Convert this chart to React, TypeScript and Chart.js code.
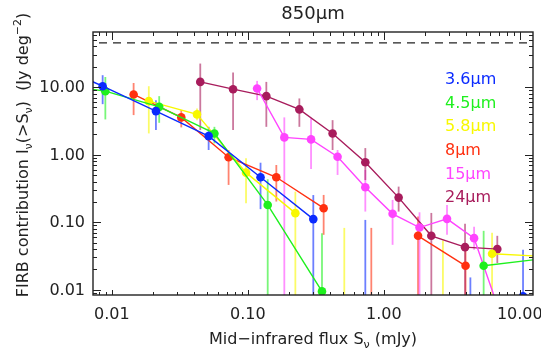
import { useEffect, useRef } from 'react';
import { Chart, registerables } from 'chart.js';
Chart.register(...registerables);

// ---- axes ----
const xTickValues = [0.01, 0.1, 1, 10];
const xTickLabels = ['0.01', '0.10', '1.00', '10.00'];
const yTickValues = [0.01, 0.1, 1, 10];
const yTickLabels = ['0.01', '0.10', '1.00', '10.00'];
const xRange = [0.00727, 12.5];
const yRange = [0.00835, 65.4];
const totalBackground = 45; // dashed line (total 850um background)
const chartTitle = '850μm';

// ---- 3.6um ----
const flux36 = [0.00349, 0.00856, 0.0211, 0.0515, 0.124, 0.303, 0.731, 4.33, 10.56];
const val36 = [23.2, 10.3, 4.41, 1.88, 0.462, 0.111, null, null, 0.008];
const lo36 = [null, 5.59, 2.31, 1.17, 0.156, 0, 0, 0, 0];
const hi36 = [null, 15.0, 6.4, 2.58, 0.759, 0.252, 0.108, 0.0152, 0.039];

// ---- 4.5um ----
const flux45 = [0.00359, 0.00896, 0.0223, 0.0568, 0.14, 0.351, 0.88, 5.42, 13.5];
const val45 = [11.2, 8.7, 5.1, 2.06, 0.18, 0.00944, null, 0.0226, 0.0282];
const lo45 = [null, 3.32, 2.96, 1.47, 0, 0, null, 0, null];
const hi45 = [null, 14.1, 7.34, 2.58, 0.432, 0.0688, null, 0.0744, null];

// ---- 5.8um ----
const flux58 = [0.0187, 0.0423, 0.097, 0.2236, 0.512, 2.72, 6.25, 14.3];
const val58 = [6.19, 3.94, 0.541, 0.136, null, null, 0.034, 0.0313];
const lo58 = [2.06, 3.24, 0.191, 0, 0, 0, 0, null];
const hi58 = [10.3, 4.83, 0.882, 0.283, 0.0823, 0.0535, 0.0695, null];

// ---- 8um ----
const flux8 = [0.01446, 0.0324, 0.0722, 0.162, 0.361, 0.809, 1.785, 3.99];
const val8 = [7.78, 3.56, 0.915, 0.462, 0.161, null, 0.0628, 0.0226];
const lo8 = [3.85, 2.53, 0.356, 0.202, 0.065, 0, 0, 0];
const hi8 = [11.5, 4.56, 1.17, 0.702, 0.253, 0.0823, 0.121, 0.045];

// ---- 15um ----
const flux15 = [0.117, 0.1855, 0.2917, 0.457, 0.731, 1.16, 1.83, 2.915, 4.61, 7.27];
const val15 = [9.54, 1.8, 1.68, 0.931, 0.329, 0.133, 0.0832, 0.112, 0.058, 0.0041];
const lo15 = [6.41, 0, 0.613, 0.5, 0.1435, 0.0462, 0, 0.0649, 0.039, null];
const hi15 = [12.35, 3.56, 3.47, 1.17, 0.593, 0.2135, 0.14, 0.18, 0.0852, null];

// ---- 24um ----
const flux24 = [0.0447, 0.0779, 0.1368, 0.2393, 0.42, 0.731, 1.285, 2.235, 3.955, 6.83];
const val24 = [11.94, 9.31, 7.34, 4.67, 2.06, 0.77, 0.231, 0.0628, 0.0427, 0.0399];
const lo24 = [2.31, 2.31, 2.58, 2.58, 1.17, 0.42, 0.1435, 0, 0, 0.0248];
const hi24 = [22.3, 16.4, 11.94, 6.79, 3.24, 1.25, 0.336, 0.137, 0.0944, 0.0628];

const bandLabels = ['3.6μm', '4.5μm', '5.8μm', '8μm', '15μm', '24μm'];
const bandColors = ['#0a2aff', '#1ef01e', '#f8f800', '#ff3010', '#ff44ff', '#a81c5c'];

const bands = [
  { flux: flux36, val: val36, lo: lo36, hi: hi36 },
  { flux: flux45, val: val45, lo: lo45, hi: hi45 },
  { flux: flux58, val: val58, lo: lo58, hi: hi58 },
  { flux: flux8, val: val8, lo: lo8, hi: hi8 },
  { flux: flux15, val: val15, lo: lo15, hi: hi15 },
  { flux: flux24, val: val24, lo: lo24, hi: hi24 },
].map((b, i) => ({ ...b, label: bandLabels[i], color: bandColors[i] }));

const FONT = '"DejaVu Sans", sans-serif';
const INK = '#222222';

function hexA(hex: string, a: number) {
  const n = parseInt(hex.slice(1), 16);
  return `rgba(${(n >> 16) & 255},${(n >> 8) & 255},${n & 255},${a})`;
}

type Seg = { t: string; sub?: boolean; sup?: boolean };

function richWidth(ctx: CanvasRenderingContext2D, segs: Seg[], size: number) {
  let w = 0;
  for (const s of segs) {
    ctx.font = `${s.sub || s.sup ? Math.round(size * 0.7) : size}px ${FONT}`;
    w += ctx.measureText(s.t).width;
  }
  return w;
}

function drawRich(ctx: CanvasRenderingContext2D, segs: Seg[], size: number, x: number, y: number) {
  let cx = x;
  for (const s of segs) {
    const small = s.sub || s.sup;
    ctx.font = `${small ? Math.round(size * 0.7) : size}px ${FONT}`;
    const dy = s.sub ? size * 0.22 : s.sup ? -size * 0.42 : 0;
    ctx.fillText(s.t, cx, y + dy);
    cx += ctx.measureText(s.t).width;
  }
}

const errorBarPlugin = {
  id: 'errorBars',
  beforeDatasetsDraw(chart: any) {
    const { ctx, chartArea: a, scales } = chart;
    const xs = scales.x, ys = scales.y;
    ctx.save();
    ctx.beginPath();
    ctx.rect(a.left, a.top, a.right - a.left, a.bottom - a.top);
    ctx.clip();
    bands.forEach((b) => {
      ctx.strokeStyle = hexA(b.color, 0.6);
      ctx.lineWidth = 1.8;
      b.flux.forEach((f, i) => {
        const hi = b.hi[i];
        if (hi == null) return;
        const lo = b.lo[i];
        const px = xs.getPixelForValue(f);
        const pyHi = ys.getPixelForValue(hi);
        const pyLo = lo != null && lo > 0 ? ys.getPixelForValue(lo) : a.bottom + 2;
        ctx.beginPath();
        ctx.moveTo(px, pyLo);
        ctx.lineTo(px, pyHi);
        ctx.stroke();
      });
    });
    // dashed total background
    const yd = ys.getPixelForValue(totalBackground);
    ctx.strokeStyle = INK;
    ctx.lineWidth = 1.3;
    ctx.setLineDash([8, 6]);
    ctx.beginPath();
    ctx.moveTo(a.left + 6, yd);
    ctx.lineTo(a.right, yd);
    ctx.stroke();
    ctx.setLineDash([]);
    ctx.restore();
  },
  afterDraw(chart: any) {
    const { ctx, chartArea: a, scales } = chart;
    const xs = scales.x, ys = scales.y;
    ctx.save();
    ctx.strokeStyle = INK;
    ctx.fillStyle = INK;
    ctx.lineWidth = 1.4;
    ctx.strokeRect(a.left, a.top, a.right - a.left, a.bottom - a.top);

    // ticks
    ctx.lineWidth = 1;
    const minor = (lo: number, hi: number) => {
      const out: { v: number; major: boolean }[] = [];
      for (let e = -4; e <= 3; e++) {
        for (let m = 1; m <= 9; m++) {
          const v = m * Math.pow(10, e);
          if (v >= lo && v <= hi) out.push({ v, major: m === 1 });
        }
      }
      return out;
    };
    ctx.beginPath();
    for (const t of minor(xRange[0], xRange[1])) {
      const px = Math.round(xs.getPixelForValue(t.v)) + 0.5;
      const lb = t.major ? 5 : 3;
      const lt = t.major ? 8 : 4;
      ctx.moveTo(px, a.bottom);
      ctx.lineTo(px, a.bottom - lb);
      ctx.moveTo(px, a.top);
      ctx.lineTo(px, a.top + lt);
    }
    for (const t of minor(yRange[0], yRange[1])) {
      const py = Math.round(ys.getPixelForValue(t.v)) + 0.5;
      const l = t.major ? 8 : 4;
      ctx.moveTo(a.left, py);
      ctx.lineTo(a.left + l, py);
      ctx.moveTo(a.right, py);
      ctx.lineTo(a.right - l, py);
    }
    ctx.stroke();

    // tick labels
    ctx.font = `16px ${FONT}`;
    ctx.textAlign = 'center';
    ctx.textBaseline = 'alphabetic';
    xTickValues.forEach((v, i) => {
      ctx.fillText(xTickLabels[i], xs.getPixelForValue(v), a.bottom + 24);
    });
    ctx.textAlign = 'right';
    ctx.textBaseline = 'middle';
    yTickValues.forEach((v, i) => {
      ctx.fillText(yTickLabels[i], a.left - 8, ys.getPixelForValue(v) + 1);
    });

    // title
    ctx.textAlign = 'center';
    ctx.textBaseline = 'alphabetic';
    ctx.font = `18px ${FONT}`;
    ctx.fillText(chartTitle, (a.left + a.right) / 2, 19);

    // x title
    ctx.textAlign = 'left';
    const xt: Seg[] = [{ t: 'Mid−infrared flux S' }, { t: 'ν', sub: true }, { t: ' (mJy)' }];
    const xw = richWidth(ctx, xt, 16);
    drawRich(ctx, xt, 16, (a.left + a.right) / 2 - xw / 2, 344);

    // y title
    const yt: Seg[] = [
      { t: 'FIRB contribution I' }, { t: 'ν', sub: true }, { t: '(>S' }, { t: 'ν', sub: true },
      { t: ')  (Jy deg' }, { t: '−2', sup: true }, { t: ')' },
    ];
    const yw = richWidth(ctx, yt, 16);
    ctx.save();
    ctx.translate(28, 155);
    ctx.rotate(-Math.PI / 2);
    drawRich(ctx, yt, 16, -yw / 2, 0);
    ctx.restore();

    // legend
    ctx.font = `16px ${FONT}`;
    ctx.textAlign = 'left';
    ctx.textBaseline = 'middle';
    bands.forEach((b, i) => {
      ctx.fillStyle = b.color;
      ctx.fillText(b.label, 445, 80 + i * 23.6);
    });
    ctx.restore();
  },
};

export default function App() {
  const ref = useRef<HTMLCanvasElement | null>(null);
  useEffect(() => {
    document.body.style.margin = '0';
    const canvas = ref.current!;
    const chart = new Chart(canvas, {
      type: 'scatter',
      data: {
        datasets: bands.map((b) => ({
          label: b.label,
          data: b.flux.map((f, i) => ({ x: f, y: b.val[i] as any })),
          showLine: true,
          spanGaps: false,
          borderColor: b.color,
          backgroundColor: b.color,
          pointBackgroundColor: b.color,
          pointBorderColor: b.color,
          pointRadius: 4.3,
          pointBorderWidth: 0,
          borderWidth: 1.4,
        })),
      },
      options: {
        animation: false,
        responsive: false,
        devicePixelRatio: 1,
        layout: { padding: { left: 93, right: 8, top: 32, bottom: 56 } },
        plugins: { legend: { display: false }, tooltip: { enabled: false }, title: { display: false } },
        scales: {
          x: { type: 'logarithmic', min: xRange[0], max: xRange[1], display: false },
          y: { type: 'logarithmic', min: yRange[0], max: yRange[1], display: false },
        },
      },
      plugins: [errorBarPlugin],
    });
    return () => chart.destroy();
  }, []);
  return (
    <div style={{ width: 541, height: 351, background: '#fff' }}>
      <canvas ref={ref} width={541} height={351} />
    </div>
  );
}
